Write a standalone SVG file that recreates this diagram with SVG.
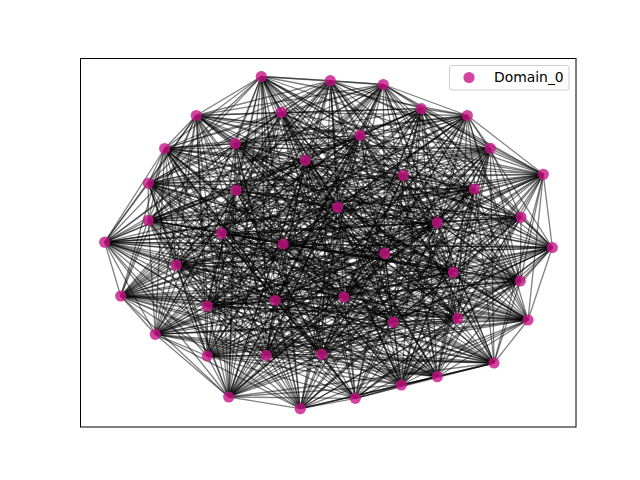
<svg xmlns="http://www.w3.org/2000/svg" width="640" height="480" viewBox="0 0 640 480">
<style>
#edges path{stroke:#000;stroke-opacity:.5;stroke-width:1.3;fill:none}
.n{fill:#c71585;fill-opacity:.8}
.t{font-family:"DejaVu Sans",sans-serif;font-size:13.9px;fill:#000}
</style>
<rect width="640" height="480" fill="#fff"/>
<g id="edges">
<path d="M261.3 76.5L330.3 80.7"/><path d="M261.3 76.5L383.3 84.5"/><path d="M261.3 76.5L281.3 112.3"/><path d="M261.3 76.5L196.3 115.5"/><path d="M261.3 76.5L467.3 115.5"/><path d="M261.3 76.5L235.3 143.5"/><path d="M261.3 76.5L164.7 148.5"/><path d="M261.3 76.5L305.3 160.3"/><path d="M261.3 76.5L148.3 183.3"/><path d="M261.3 76.5L236.3 190.3"/><path d="M261.3 76.5L337.7 207.3"/><path d="M261.3 76.5L521 217.3"/><path d="M261.3 76.5L104.7 242.2"/><path d="M261.3 76.5L283.3 244"/><path d="M261.3 76.5L384.7 253.3"/><path d="M261.3 76.5L453.3 272.3"/><path d="M261.3 76.5L275.3 300.3"/><path d="M261.3 76.5L207.3 306"/><path d="M261.3 76.5L457.7 318.3"/><path d="M261.3 76.5L155.3 334.3"/><path d="M261.3 76.5L266.3 355.3"/><path d="M261.3 76.5L437.3 376.7"/><path d="M261.3 76.5L228.7 397"/><path d="M261.3 76.5L300.3 408.7"/>
<path d="M330.3 80.7L383.3 84.5"/><path d="M330.3 80.7L281.3 112.3"/><path d="M330.3 80.7L421.3 108.7"/><path d="M330.3 80.7L360 135.3"/><path d="M330.3 80.7L235.3 143.5"/><path d="M330.3 80.7L490.3 148.3"/><path d="M330.3 80.7L403.3 175.3"/><path d="M330.3 80.7L148.3 183.3"/><path d="M330.3 80.7L236.3 190.3"/><path d="M330.3 80.7L148.3 220.3"/><path d="M330.3 80.7L221.3 233.2"/><path d="M330.3 80.7L283.3 244"/><path d="M330.3 80.7L552.3 247.5"/><path d="M330.3 80.7L176.3 265"/><path d="M330.3 80.7L120.7 296"/><path d="M330.3 80.7L344 297"/><path d="M330.3 80.7L393.3 322.3"/><path d="M330.3 80.7L207.3 356"/><path d="M330.3 80.7L321.7 354.3"/><path d="M330.3 80.7L494 363"/><path d="M330.3 80.7L401.3 385"/><path d="M330.3 80.7L355.3 398.3"/>
<path d="M383.3 84.5L281.3 112.3"/><path d="M383.3 84.5L421.3 108.7"/><path d="M383.3 84.5L467.3 115.5"/><path d="M383.3 84.5L360 135.3"/><path d="M383.3 84.5L164.7 148.5"/><path d="M383.3 84.5L305.3 160.3"/><path d="M383.3 84.5L543.3 174.3"/><path d="M383.3 84.5L474.3 189"/><path d="M383.3 84.5L337.7 207.3"/><path d="M383.3 84.5L437.3 222.7"/><path d="M383.3 84.5L104.7 242.2"/><path d="M383.3 84.5L384.7 253.3"/><path d="M383.3 84.5L176.3 265"/><path d="M383.3 84.5L520.3 281"/><path d="M383.3 84.5L275.3 300.3"/><path d="M383.3 84.5L457.7 318.3"/><path d="M383.3 84.5L528 320"/><path d="M383.3 84.5L155.3 334.3"/><path d="M383.3 84.5L266.3 355.3"/><path d="M383.3 84.5L437.3 376.7"/><path d="M383.3 84.5L300.3 408.7"/>
<path d="M281.3 112.3L196.3 115.5"/><path d="M281.3 112.3L421.3 108.7"/><path d="M281.3 112.3L235.3 143.5"/><path d="M281.3 112.3L490.3 148.3"/><path d="M281.3 112.3L305.3 160.3"/><path d="M281.3 112.3L403.3 175.3"/><path d="M281.3 112.3L236.3 190.3"/><path d="M281.3 112.3L148.3 220.3"/><path d="M281.3 112.3L521 217.3"/><path d="M281.3 112.3L221.3 233.2"/><path d="M281.3 112.3L552.3 247.5"/><path d="M281.3 112.3L453.3 272.3"/><path d="M281.3 112.3L120.7 296"/><path d="M281.3 112.3L344 297"/><path d="M281.3 112.3L207.3 306"/><path d="M281.3 112.3L393.3 322.3"/><path d="M281.3 112.3L207.3 356"/><path d="M281.3 112.3L494 363"/><path d="M281.3 112.3L228.7 397"/><path d="M281.3 112.3L355.3 398.3"/>
<path d="M196.3 115.5L360 135.3"/><path d="M196.3 115.5L235.3 143.5"/><path d="M196.3 115.5L164.7 148.5"/><path d="M196.3 115.5L543.3 174.3"/><path d="M196.3 115.5L148.3 183.3"/><path d="M196.3 115.5L474.3 189"/><path d="M196.3 115.5L337.7 207.3"/><path d="M196.3 115.5L437.3 222.7"/><path d="M196.3 115.5L104.7 242.2"/><path d="M196.3 115.5L283.3 244"/><path d="M196.3 115.5L176.3 265"/><path d="M196.3 115.5L520.3 281"/><path d="M196.3 115.5L275.3 300.3"/><path d="M196.3 115.5L457.7 318.3"/><path d="M196.3 115.5L528 320"/><path d="M196.3 115.5L207.3 356"/><path d="M196.3 115.5L321.7 354.3"/><path d="M196.3 115.5L401.3 385"/><path d="M196.3 115.5L300.3 408.7"/>
<path d="M421.3 108.7L467.3 115.5"/><path d="M421.3 108.7L360 135.3"/><path d="M421.3 108.7L490.3 148.3"/><path d="M421.3 108.7L305.3 160.3"/><path d="M421.3 108.7L403.3 175.3"/><path d="M421.3 108.7L474.3 189"/><path d="M421.3 108.7L148.3 220.3"/><path d="M421.3 108.7L521 217.3"/><path d="M421.3 108.7L221.3 233.2"/><path d="M421.3 108.7L552.3 247.5"/><path d="M421.3 108.7L384.7 253.3"/><path d="M421.3 108.7L453.3 272.3"/><path d="M421.3 108.7L275.3 300.3"/><path d="M421.3 108.7L207.3 306"/><path d="M421.3 108.7L393.3 322.3"/><path d="M421.3 108.7L155.3 334.3"/><path d="M421.3 108.7L321.7 354.3"/><path d="M421.3 108.7L437.3 376.7"/><path d="M421.3 108.7L228.7 397"/><path d="M421.3 108.7L355.3 398.3"/>
<path d="M467.3 115.5L360 135.3"/><path d="M467.3 115.5L164.7 148.5"/><path d="M467.3 115.5L490.3 148.3"/><path d="M467.3 115.5L543.3 174.3"/><path d="M467.3 115.5L148.3 183.3"/><path d="M467.3 115.5L236.3 190.3"/><path d="M467.3 115.5L337.7 207.3"/><path d="M467.3 115.5L437.3 222.7"/><path d="M467.3 115.5L283.3 244"/><path d="M467.3 115.5L552.3 247.5"/><path d="M467.3 115.5L176.3 265"/><path d="M467.3 115.5L520.3 281"/><path d="M467.3 115.5L344 297"/><path d="M467.3 115.5L457.7 318.3"/><path d="M467.3 115.5L528 320"/><path d="M467.3 115.5L266.3 355.3"/><path d="M467.3 115.5L494 363"/><path d="M467.3 115.5L401.3 385"/>
<path d="M360 135.3L235.3 143.5"/><path d="M360 135.3L305.3 160.3"/><path d="M360 135.3L543.3 174.3"/><path d="M360 135.3L403.3 175.3"/><path d="M360 135.3L474.3 189"/><path d="M360 135.3L148.3 220.3"/><path d="M360 135.3L437.3 222.7"/><path d="M360 135.3L221.3 233.2"/><path d="M360 135.3L283.3 244"/><path d="M360 135.3L384.7 253.3"/><path d="M360 135.3L453.3 272.3"/><path d="M360 135.3L120.7 296"/><path d="M360 135.3L207.3 306"/><path d="M360 135.3L393.3 322.3"/><path d="M360 135.3L155.3 334.3"/><path d="M360 135.3L266.3 355.3"/><path d="M360 135.3L437.3 376.7"/><path d="M360 135.3L300.3 408.7"/>
<path d="M235.3 143.5L164.7 148.5"/><path d="M235.3 143.5L490.3 148.3"/><path d="M235.3 143.5L543.3 174.3"/><path d="M235.3 143.5L148.3 183.3"/><path d="M235.3 143.5L236.3 190.3"/><path d="M235.3 143.5L521 217.3"/><path d="M235.3 143.5L437.3 222.7"/><path d="M235.3 143.5L104.7 242.2"/><path d="M235.3 143.5L384.7 253.3"/><path d="M235.3 143.5L176.3 265"/><path d="M235.3 143.5L520.3 281"/><path d="M235.3 143.5L344 297"/><path d="M235.3 143.5L457.7 318.3"/><path d="M235.3 143.5L528 320"/><path d="M235.3 143.5L207.3 356"/><path d="M235.3 143.5L494 363"/><path d="M235.3 143.5L228.7 397"/>
<path d="M164.7 148.5L305.3 160.3"/><path d="M164.7 148.5L403.3 175.3"/><path d="M164.7 148.5L148.3 183.3"/><path d="M164.7 148.5L474.3 189"/><path d="M164.7 148.5L337.7 207.3"/><path d="M164.7 148.5L148.3 220.3"/><path d="M164.7 148.5L221.3 233.2"/><path d="M164.7 148.5L104.7 242.2"/><path d="M164.7 148.5L283.3 244"/><path d="M164.7 148.5L552.3 247.5"/><path d="M164.7 148.5L453.3 272.3"/><path d="M164.7 148.5L120.7 296"/><path d="M164.7 148.5L275.3 300.3"/><path d="M164.7 148.5L207.3 306"/><path d="M164.7 148.5L528 320"/><path d="M164.7 148.5L155.3 334.3"/><path d="M164.7 148.5L321.7 354.3"/><path d="M164.7 148.5L401.3 385"/><path d="M164.7 148.5L355.3 398.3"/>
<path d="M490.3 148.3L305.3 160.3"/><path d="M490.3 148.3L543.3 174.3"/><path d="M490.3 148.3L403.3 175.3"/><path d="M490.3 148.3L474.3 189"/><path d="M490.3 148.3L236.3 190.3"/><path d="M490.3 148.3L521 217.3"/><path d="M490.3 148.3L437.3 222.7"/><path d="M490.3 148.3L104.7 242.2"/><path d="M490.3 148.3L384.7 253.3"/><path d="M490.3 148.3L453.3 272.3"/><path d="M490.3 148.3L520.3 281"/><path d="M490.3 148.3L344 297"/><path d="M490.3 148.3L393.3 322.3"/><path d="M490.3 148.3L155.3 334.3"/><path d="M490.3 148.3L266.3 355.3"/><path d="M490.3 148.3L494 363"/><path d="M490.3 148.3L437.3 376.7"/><path d="M490.3 148.3L300.3 408.7"/>
<path d="M305.3 160.3L403.3 175.3"/><path d="M305.3 160.3L148.3 183.3"/><path d="M305.3 160.3L236.3 190.3"/><path d="M305.3 160.3L337.7 207.3"/><path d="M305.3 160.3L521 217.3"/><path d="M305.3 160.3L104.7 242.2"/><path d="M305.3 160.3L552.3 247.5"/><path d="M305.3 160.3L176.3 265"/><path d="M305.3 160.3L520.3 281"/><path d="M305.3 160.3L120.7 296"/><path d="M305.3 160.3L344 297"/><path d="M305.3 160.3L457.7 318.3"/><path d="M305.3 160.3L528 320"/><path d="M305.3 160.3L207.3 356"/><path d="M305.3 160.3L321.7 354.3"/><path d="M305.3 160.3L401.3 385"/><path d="M305.3 160.3L228.7 397"/>
<path d="M543.3 174.3L403.3 175.3"/><path d="M543.3 174.3L474.3 189"/><path d="M543.3 174.3L337.7 207.3"/><path d="M543.3 174.3L521 217.3"/><path d="M543.3 174.3L437.3 222.7"/><path d="M543.3 174.3L283.3 244"/><path d="M543.3 174.3L552.3 247.5"/><path d="M543.3 174.3L384.7 253.3"/><path d="M543.3 174.3L453.3 272.3"/><path d="M543.3 174.3L520.3 281"/><path d="M543.3 174.3L275.3 300.3"/><path d="M543.3 174.3L457.7 318.3"/><path d="M543.3 174.3L528 320"/><path d="M543.3 174.3L266.3 355.3"/><path d="M543.3 174.3L494 363"/><path d="M543.3 174.3L228.7 397"/><path d="M543.3 174.3L355.3 398.3"/>
<path d="M403.3 175.3L148.3 183.3"/><path d="M403.3 175.3L236.3 190.3"/><path d="M403.3 175.3L148.3 220.3"/><path d="M403.3 175.3L437.3 222.7"/><path d="M403.3 175.3L221.3 233.2"/><path d="M403.3 175.3L283.3 244"/><path d="M403.3 175.3L176.3 265"/><path d="M403.3 175.3L453.3 272.3"/><path d="M403.3 175.3L120.7 296"/><path d="M403.3 175.3L344 297"/><path d="M403.3 175.3L207.3 306"/><path d="M403.3 175.3L393.3 322.3"/><path d="M403.3 175.3L155.3 334.3"/><path d="M403.3 175.3L321.7 354.3"/><path d="M403.3 175.3L437.3 376.7"/><path d="M403.3 175.3L300.3 408.7"/>
<path d="M148.3 183.3L474.3 189"/><path d="M148.3 183.3L236.3 190.3"/><path d="M148.3 183.3L148.3 220.3"/><path d="M148.3 183.3L521 217.3"/><path d="M148.3 183.3L221.3 233.2"/><path d="M148.3 183.3L104.7 242.2"/><path d="M148.3 183.3L384.7 253.3"/><path d="M148.3 183.3L176.3 265"/><path d="M148.3 183.3L520.3 281"/><path d="M148.3 183.3L275.3 300.3"/><path d="M148.3 183.3L207.3 306"/><path d="M148.3 183.3L393.3 322.3"/><path d="M148.3 183.3L207.3 356"/><path d="M148.3 183.3L266.3 355.3"/><path d="M148.3 183.3L494 363"/><path d="M148.3 183.3L228.7 397"/><path d="M148.3 183.3L355.3 398.3"/>
<path d="M474.3 189L337.7 207.3"/><path d="M474.3 189L148.3 220.3"/><path d="M474.3 189L437.3 222.7"/><path d="M474.3 189L104.7 242.2"/><path d="M474.3 189L283.3 244"/><path d="M474.3 189L384.7 253.3"/><path d="M474.3 189L453.3 272.3"/><path d="M474.3 189L120.7 296"/><path d="M474.3 189L275.3 300.3"/><path d="M474.3 189L457.7 318.3"/><path d="M474.3 189L528 320"/><path d="M474.3 189L155.3 334.3"/><path d="M474.3 189L321.7 354.3"/><path d="M474.3 189L437.3 376.7"/><path d="M474.3 189L401.3 385"/><path d="M474.3 189L300.3 408.7"/>
<path d="M236.3 190.3L337.7 207.3"/><path d="M236.3 190.3L148.3 220.3"/><path d="M236.3 190.3L437.3 222.7"/><path d="M236.3 190.3L221.3 233.2"/><path d="M236.3 190.3L552.3 247.5"/><path d="M236.3 190.3L176.3 265"/><path d="M236.3 190.3L453.3 272.3"/><path d="M236.3 190.3L120.7 296"/><path d="M236.3 190.3L344 297"/><path d="M236.3 190.3L393.3 322.3"/><path d="M236.3 190.3L155.3 334.3"/><path d="M236.3 190.3L207.3 356"/><path d="M236.3 190.3L494 363"/><path d="M236.3 190.3L401.3 385"/><path d="M236.3 190.3L355.3 398.3"/>
<path d="M337.7 207.3L521 217.3"/><path d="M337.7 207.3L437.3 222.7"/><path d="M337.7 207.3L104.7 242.2"/><path d="M337.7 207.3L552.3 247.5"/><path d="M337.7 207.3L384.7 253.3"/><path d="M337.7 207.3L453.3 272.3"/><path d="M337.7 207.3L520.3 281"/><path d="M337.7 207.3L275.3 300.3"/><path d="M337.7 207.3L207.3 306"/><path d="M337.7 207.3L457.7 318.3"/><path d="M337.7 207.3L528 320"/><path d="M337.7 207.3L266.3 355.3"/><path d="M337.7 207.3L321.7 354.3"/><path d="M337.7 207.3L437.3 376.7"/><path d="M337.7 207.3L228.7 397"/><path d="M337.7 207.3L300.3 408.7"/>
<path d="M148.3 220.3L521 217.3"/><path d="M148.3 220.3L221.3 233.2"/><path d="M148.3 220.3L104.7 242.2"/><path d="M148.3 220.3L283.3 244"/><path d="M148.3 220.3L384.7 253.3"/><path d="M148.3 220.3L176.3 265"/><path d="M148.3 220.3L520.3 281"/><path d="M148.3 220.3L120.7 296"/><path d="M148.3 220.3L344 297"/><path d="M148.3 220.3L457.7 318.3"/><path d="M148.3 220.3L528 320"/><path d="M148.3 220.3L155.3 334.3"/><path d="M148.3 220.3L266.3 355.3"/><path d="M148.3 220.3L494 363"/><path d="M148.3 220.3L401.3 385"/><path d="M148.3 220.3L355.3 398.3"/>
<path d="M521 217.3L437.3 222.7"/><path d="M521 217.3L221.3 233.2"/><path d="M521 217.3L283.3 244"/><path d="M521 217.3L552.3 247.5"/><path d="M521 217.3L176.3 265"/><path d="M521 217.3L453.3 272.3"/><path d="M521 217.3L120.7 296"/><path d="M521 217.3L275.3 300.3"/><path d="M521 217.3L207.3 306"/><path d="M521 217.3L393.3 322.3"/><path d="M521 217.3L155.3 334.3"/><path d="M521 217.3L207.3 356"/><path d="M521 217.3L321.7 354.3"/><path d="M521 217.3L437.3 376.7"/><path d="M521 217.3L228.7 397"/><path d="M521 217.3L300.3 408.7"/>
<path d="M437.3 222.7L104.7 242.2"/><path d="M437.3 222.7L283.3 244"/><path d="M437.3 222.7L384.7 253.3"/><path d="M437.3 222.7L176.3 265"/><path d="M437.3 222.7L520.3 281"/><path d="M437.3 222.7L275.3 300.3"/><path d="M437.3 222.7L344 297"/><path d="M437.3 222.7L457.7 318.3"/><path d="M437.3 222.7L393.3 322.3"/><path d="M437.3 222.7L155.3 334.3"/><path d="M437.3 222.7L207.3 356"/><path d="M437.3 222.7L321.7 354.3"/><path d="M437.3 222.7L494 363"/><path d="M437.3 222.7L401.3 385"/><path d="M437.3 222.7L355.3 398.3"/>
<path d="M221.3 233.2L104.7 242.2"/><path d="M221.3 233.2L552.3 247.5"/><path d="M221.3 233.2L384.7 253.3"/><path d="M221.3 233.2L453.3 272.3"/><path d="M221.3 233.2L520.3 281"/><path d="M221.3 233.2L275.3 300.3"/><path d="M221.3 233.2L207.3 306"/><path d="M221.3 233.2L457.7 318.3"/><path d="M221.3 233.2L528 320"/><path d="M221.3 233.2L155.3 334.3"/><path d="M221.3 233.2L266.3 355.3"/><path d="M221.3 233.2L494 363"/><path d="M221.3 233.2L437.3 376.7"/><path d="M221.3 233.2L228.7 397"/><path d="M221.3 233.2L300.3 408.7"/>
<path d="M104.7 242.2L283.3 244"/><path d="M104.7 242.2L552.3 247.5"/><path d="M104.7 242.2L176.3 265"/><path d="M104.7 242.2L453.3 272.3"/><path d="M104.7 242.2L120.7 296"/><path d="M104.7 242.2L275.3 300.3"/><path d="M104.7 242.2L344 297"/><path d="M104.7 242.2L207.3 306"/><path d="M104.7 242.2L393.3 322.3"/><path d="M104.7 242.2L155.3 334.3"/><path d="M104.7 242.2L207.3 356"/><path d="M104.7 242.2L321.7 354.3"/><path d="M104.7 242.2L437.3 376.7"/><path d="M104.7 242.2L228.7 397"/><path d="M104.7 242.2L355.3 398.3"/>
<path d="M283.3 244L552.3 247.5"/><path d="M283.3 244L384.7 253.3"/><path d="M283.3 244L176.3 265"/><path d="M283.3 244L520.3 281"/><path d="M283.3 244L120.7 296"/><path d="M283.3 244L344 297"/><path d="M283.3 244L457.7 318.3"/><path d="M283.3 244L393.3 322.3"/><path d="M283.3 244L528 320"/><path d="M283.3 244L207.3 356"/><path d="M283.3 244L266.3 355.3"/><path d="M283.3 244L494 363"/><path d="M283.3 244L401.3 385"/><path d="M283.3 244L300.3 408.7"/>
<path d="M552.3 247.5L384.7 253.3"/><path d="M552.3 247.5L453.3 272.3"/><path d="M552.3 247.5L520.3 281"/><path d="M552.3 247.5L275.3 300.3"/><path d="M552.3 247.5L344 297"/><path d="M552.3 247.5L457.7 318.3"/><path d="M552.3 247.5L393.3 322.3"/><path d="M552.3 247.5L528 320"/><path d="M552.3 247.5L266.3 355.3"/><path d="M552.3 247.5L321.7 354.3"/><path d="M552.3 247.5L437.3 376.7"/><path d="M552.3 247.5L401.3 385"/><path d="M552.3 247.5L355.3 398.3"/>
<path d="M384.7 253.3L176.3 265"/><path d="M384.7 253.3L453.3 272.3"/><path d="M384.7 253.3L120.7 296"/><path d="M384.7 253.3L344 297"/><path d="M384.7 253.3L207.3 306"/><path d="M384.7 253.3L393.3 322.3"/><path d="M384.7 253.3L155.3 334.3"/><path d="M384.7 253.3L207.3 356"/><path d="M384.7 253.3L321.7 354.3"/><path d="M384.7 253.3L494 363"/><path d="M384.7 253.3L401.3 385"/><path d="M384.7 253.3L228.7 397"/><path d="M384.7 253.3L300.3 408.7"/>
<path d="M176.3 265L453.3 272.3"/><path d="M176.3 265L520.3 281"/><path d="M176.3 265L120.7 296"/><path d="M176.3 265L275.3 300.3"/><path d="M176.3 265L207.3 306"/><path d="M176.3 265L457.7 318.3"/><path d="M176.3 265L528 320"/><path d="M176.3 265L155.3 334.3"/><path d="M176.3 265L266.3 355.3"/><path d="M176.3 265L494 363"/><path d="M176.3 265L437.3 376.7"/><path d="M176.3 265L228.7 397"/><path d="M176.3 265L355.3 398.3"/>
<path d="M453.3 272.3L520.3 281"/><path d="M453.3 272.3L275.3 300.3"/><path d="M453.3 272.3L344 297"/><path d="M453.3 272.3L207.3 306"/><path d="M453.3 272.3L393.3 322.3"/><path d="M453.3 272.3L528 320"/><path d="M453.3 272.3L207.3 356"/><path d="M453.3 272.3L266.3 355.3"/><path d="M453.3 272.3L321.7 354.3"/><path d="M453.3 272.3L437.3 376.7"/><path d="M453.3 272.3L401.3 385"/><path d="M453.3 272.3L300.3 408.7"/>
<path d="M520.3 281L120.7 296"/><path d="M520.3 281L344 297"/><path d="M520.3 281L207.3 306"/><path d="M520.3 281L457.7 318.3"/><path d="M520.3 281L393.3 322.3"/><path d="M520.3 281L155.3 334.3"/><path d="M520.3 281L207.3 356"/><path d="M520.3 281L321.7 354.3"/><path d="M520.3 281L494 363"/><path d="M520.3 281L401.3 385"/><path d="M520.3 281L228.7 397"/><path d="M520.3 281L355.3 398.3"/>
<path d="M120.7 296L275.3 300.3"/><path d="M120.7 296L344 297"/><path d="M120.7 296L457.7 318.3"/><path d="M120.7 296L393.3 322.3"/><path d="M120.7 296L528 320"/><path d="M120.7 296L155.3 334.3"/><path d="M120.7 296L266.3 355.3"/><path d="M120.7 296L494 363"/><path d="M120.7 296L437.3 376.7"/><path d="M120.7 296L228.7 397"/><path d="M120.7 296L300.3 408.7"/>
<path d="M275.3 300.3L344 297"/><path d="M275.3 300.3L207.3 306"/><path d="M275.3 300.3L393.3 322.3"/><path d="M275.3 300.3L528 320"/><path d="M275.3 300.3L207.3 356"/><path d="M275.3 300.3L266.3 355.3"/><path d="M275.3 300.3L321.7 354.3"/><path d="M275.3 300.3L437.3 376.7"/><path d="M275.3 300.3L401.3 385"/><path d="M275.3 300.3L300.3 408.7"/><path d="M275.3 300.3L355.3 398.3"/>
<path d="M344 297L207.3 306"/><path d="M344 297L457.7 318.3"/><path d="M344 297L528 320"/><path d="M344 297L155.3 334.3"/><path d="M344 297L207.3 356"/><path d="M344 297L321.7 354.3"/><path d="M344 297L494 363"/><path d="M344 297L401.3 385"/><path d="M344 297L228.7 397"/><path d="M344 297L355.3 398.3"/>
<path d="M207.3 306L457.7 318.3"/><path d="M207.3 306L393.3 322.3"/><path d="M207.3 306L155.3 334.3"/><path d="M207.3 306L207.3 356"/><path d="M207.3 306L266.3 355.3"/><path d="M207.3 306L494 363"/><path d="M207.3 306L437.3 376.7"/><path d="M207.3 306L228.7 397"/><path d="M207.3 306L300.3 408.7"/>
<path d="M457.7 318.3L393.3 322.3"/><path d="M457.7 318.3L528 320"/><path d="M457.7 318.3L155.3 334.3"/><path d="M457.7 318.3L266.3 355.3"/><path d="M457.7 318.3L321.7 354.3"/><path d="M457.7 318.3L437.3 376.7"/><path d="M457.7 318.3L401.3 385"/><path d="M457.7 318.3L300.3 408.7"/><path d="M457.7 318.3L355.3 398.3"/>
<path d="M393.3 322.3L528 320"/><path d="M393.3 322.3L207.3 356"/><path d="M393.3 322.3L266.3 355.3"/><path d="M393.3 322.3L494 363"/><path d="M393.3 322.3L437.3 376.7"/><path d="M393.3 322.3L228.7 397"/><path d="M393.3 322.3L300.3 408.7"/>
<path d="M528 320L155.3 334.3"/><path d="M528 320L207.3 356"/><path d="M528 320L321.7 354.3"/><path d="M528 320L494 363"/><path d="M528 320L437.3 376.7"/><path d="M528 320L401.3 385"/><path d="M528 320L300.3 408.7"/><path d="M528 320L355.3 398.3"/>
<path d="M155.3 334.3L207.3 356"/><path d="M155.3 334.3L266.3 355.3"/><path d="M155.3 334.3L321.7 354.3"/><path d="M155.3 334.3L437.3 376.7"/><path d="M155.3 334.3L228.7 397"/><path d="M155.3 334.3L300.3 408.7"/>
<path d="M207.3 356L266.3 355.3"/><path d="M207.3 356L321.7 354.3"/><path d="M207.3 356L494 363"/><path d="M207.3 356L401.3 385"/><path d="M207.3 356L228.7 397"/><path d="M207.3 356L355.3 398.3"/>
<path d="M266.3 355.3L321.7 354.3"/><path d="M266.3 355.3L494 363"/><path d="M266.3 355.3L437.3 376.7"/><path d="M266.3 355.3L228.7 397"/><path d="M266.3 355.3L300.3 408.7"/>
<path d="M321.7 354.3L494 363"/><path d="M321.7 354.3L401.3 385"/><path d="M321.7 354.3L300.3 408.7"/><path d="M321.7 354.3L355.3 398.3"/>
<path d="M494 363L437.3 376.7"/><path d="M494 363L401.3 385"/><path d="M494 363L228.7 397"/><path d="M494 363L355.3 398.3"/>
<path d="M437.3 376.7L401.3 385"/><path d="M437.3 376.7L300.3 408.7"/><path d="M437.3 376.7L355.3 398.3"/>
<path d="M401.3 385L228.7 397"/><path d="M401.3 385L300.3 408.7"/><path d="M401.3 385L355.3 398.3"/>
<path d="M228.7 397L300.3 408.7"/>
<path d="M300.3 408.7L355.3 398.3"/>
<path d="M261.3 76.5L360 135.3"/><path d="M261.3 76.5L543.3 174.3"/><path d="M261.3 76.5L474.3 189"/><path d="M261.3 76.5L437.3 222.7"/><path d="M261.3 76.5L552.3 247.5"/><path d="M261.3 76.5L520.3 281"/><path d="M261.3 76.5L344 297"/><path d="M261.3 76.5L528 320"/><path d="M261.3 76.5L321.7 354.3"/><path d="M261.3 76.5L401.3 385"/>
<path d="M330.3 80.7L196.3 115.5"/><path d="M330.3 80.7L164.7 148.5"/><path d="M330.3 80.7L543.3 174.3"/><path d="M330.3 80.7L337.7 207.3"/><path d="M330.3 80.7L437.3 222.7"/><path d="M330.3 80.7L384.7 253.3"/><path d="M330.3 80.7L520.3 281"/><path d="M330.3 80.7L207.3 306"/><path d="M330.3 80.7L528 320"/><path d="M330.3 80.7L266.3 355.3"/><path d="M330.3 80.7L228.7 397"/>
<path d="M383.3 84.5L196.3 115.5"/><path d="M383.3 84.5L490.3 148.3"/><path d="M383.3 84.5L148.3 183.3"/><path d="M383.3 84.5L148.3 220.3"/><path d="M383.3 84.5L221.3 233.2"/><path d="M383.3 84.5L552.3 247.5"/><path d="M383.3 84.5L120.7 296"/><path d="M383.3 84.5L207.3 306"/><path d="M383.3 84.5L207.3 356"/><path d="M383.3 84.5L494 363"/><path d="M383.3 84.5L228.7 397"/>
<path d="M281.3 112.3L467.3 115.5"/><path d="M281.3 112.3L164.7 148.5"/><path d="M281.3 112.3L148.3 183.3"/><path d="M281.3 112.3L337.7 207.3"/><path d="M281.3 112.3L104.7 242.2"/><path d="M281.3 112.3L384.7 253.3"/><path d="M281.3 112.3L520.3 281"/><path d="M281.3 112.3L457.7 318.3"/><path d="M281.3 112.3L155.3 334.3"/><path d="M281.3 112.3L321.7 354.3"/><path d="M281.3 112.3L401.3 385"/>
<path d="M196.3 115.5L421.3 108.7"/><path d="M196.3 115.5L490.3 148.3"/><path d="M196.3 115.5L403.3 175.3"/><path d="M196.3 115.5L148.3 220.3"/><path d="M196.3 115.5L221.3 233.2"/><path d="M196.3 115.5L384.7 253.3"/><path d="M196.3 115.5L120.7 296"/><path d="M196.3 115.5L207.3 306"/><path d="M196.3 115.5L155.3 334.3"/><path d="M196.3 115.5L494 363"/><path d="M196.3 115.5L228.7 397"/>
<path d="M421.3 108.7L235.3 143.5"/><path d="M421.3 108.7L543.3 174.3"/><path d="M421.3 108.7L236.3 190.3"/><path d="M421.3 108.7L437.3 222.7"/><path d="M421.3 108.7L283.3 244"/><path d="M421.3 108.7L520.3 281"/><path d="M421.3 108.7L344 297"/><path d="M421.3 108.7L528 320"/><path d="M421.3 108.7L266.3 355.3"/><path d="M421.3 108.7L401.3 385"/>
<path d="M467.3 115.5L235.3 143.5"/><path d="M467.3 115.5L403.3 175.3"/><path d="M467.3 115.5L148.3 220.3"/><path d="M467.3 115.5L221.3 233.2"/><path d="M467.3 115.5L384.7 253.3"/><path d="M467.3 115.5L120.7 296"/><path d="M467.3 115.5L207.3 306"/><path d="M467.3 115.5L155.3 334.3"/><path d="M467.3 115.5L321.7 354.3"/><path d="M467.3 115.5L228.7 397"/><path d="M467.3 115.5L355.3 398.3"/>
<path d="M360 135.3L164.7 148.5"/><path d="M360 135.3L148.3 183.3"/><path d="M360 135.3L337.7 207.3"/><path d="M360 135.3L104.7 242.2"/><path d="M360 135.3L176.3 265"/><path d="M360 135.3L275.3 300.3"/><path d="M360 135.3L457.7 318.3"/><path d="M360 135.3L207.3 356"/><path d="M360 135.3L494 363"/><path d="M360 135.3L228.7 397"/>
<path d="M235.3 143.5L305.3 160.3"/><path d="M235.3 143.5L474.3 189"/><path d="M235.3 143.5L148.3 220.3"/><path d="M235.3 143.5L283.3 244"/><path d="M235.3 143.5L453.3 272.3"/><path d="M235.3 143.5L275.3 300.3"/><path d="M235.3 143.5L393.3 322.3"/><path d="M235.3 143.5L266.3 355.3"/><path d="M235.3 143.5L437.3 376.7"/><path d="M235.3 143.5L300.3 408.7"/>
<path d="M164.7 148.5L490.3 148.3"/><path d="M164.7 148.5L236.3 190.3"/><path d="M164.7 148.5L437.3 222.7"/><path d="M164.7 148.5L176.3 265"/><path d="M164.7 148.5L344 297"/><path d="M164.7 148.5L393.3 322.3"/><path d="M164.7 148.5L266.3 355.3"/><path d="M164.7 148.5L437.3 376.7"/><path d="M164.7 148.5L300.3 408.7"/>
<path d="M490.3 148.3L148.3 183.3"/><path d="M490.3 148.3L148.3 220.3"/><path d="M490.3 148.3L283.3 244"/><path d="M490.3 148.3L176.3 265"/><path d="M490.3 148.3L275.3 300.3"/><path d="M490.3 148.3L457.7 318.3"/><path d="M490.3 148.3L207.3 356"/><path d="M490.3 148.3L401.3 385"/><path d="M490.3 148.3L355.3 398.3"/>
<path d="M305.3 160.3L543.3 174.3"/><path d="M305.3 160.3L148.3 220.3"/><path d="M305.3 160.3L221.3 233.2"/><path d="M305.3 160.3L384.7 253.3"/><path d="M305.3 160.3L275.3 300.3"/><path d="M305.3 160.3L393.3 322.3"/><path d="M305.3 160.3L266.3 355.3"/><path d="M305.3 160.3L437.3 376.7"/><path d="M305.3 160.3L355.3 398.3"/>
<path d="M543.3 174.3L148.3 183.3"/><path d="M543.3 174.3L148.3 220.3"/><path d="M543.3 174.3L104.7 242.2"/><path d="M543.3 174.3L120.7 296"/><path d="M543.3 174.3L207.3 306"/><path d="M543.3 174.3L155.3 334.3"/><path d="M543.3 174.3L321.7 354.3"/><path d="M543.3 174.3L401.3 385"/>
<path d="M403.3 175.3L474.3 189"/><path d="M403.3 175.3L521 217.3"/><path d="M403.3 175.3L552.3 247.5"/><path d="M403.3 175.3L520.3 281"/><path d="M403.3 175.3L457.7 318.3"/><path d="M403.3 175.3L207.3 356"/><path d="M403.3 175.3L494 363"/><path d="M403.3 175.3L228.7 397"/>
<path d="M148.3 183.3L337.7 207.3"/><path d="M148.3 183.3L283.3 244"/><path d="M148.3 183.3L453.3 272.3"/><path d="M148.3 183.3L344 297"/><path d="M148.3 183.3L528 320"/><path d="M148.3 183.3L321.7 354.3"/><path d="M148.3 183.3L401.3 385"/>
<path d="M474.3 189L236.3 190.3"/><path d="M474.3 189L221.3 233.2"/><path d="M474.3 189L176.3 265"/><path d="M474.3 189L344 297"/><path d="M474.3 189L393.3 322.3"/><path d="M474.3 189L266.3 355.3"/><path d="M474.3 189L228.7 397"/>
<path d="M236.3 190.3L521 217.3"/><path d="M236.3 190.3L283.3 244"/><path d="M236.3 190.3L520.3 281"/><path d="M236.3 190.3L207.3 306"/><path d="M236.3 190.3L528 320"/><path d="M236.3 190.3L321.7 354.3"/><path d="M236.3 190.3L228.7 397"/>
<path d="M337.7 207.3L148.3 220.3"/><path d="M337.7 207.3L283.3 244"/><path d="M337.7 207.3L120.7 296"/><path d="M337.7 207.3L393.3 322.3"/><path d="M337.7 207.3L207.3 356"/><path d="M337.7 207.3L401.3 385"/>
<path d="M148.3 220.3L437.3 222.7"/><path d="M148.3 220.3L453.3 272.3"/><path d="M148.3 220.3L207.3 306"/><path d="M148.3 220.3L207.3 356"/><path d="M148.3 220.3L437.3 376.7"/><path d="M148.3 220.3L300.3 408.7"/>
<path d="M521 217.3L104.7 242.2"/><path d="M521 217.3L520.3 281"/><path d="M521 217.3L457.7 318.3"/><path d="M521 217.3L266.3 355.3"/><path d="M521 217.3L401.3 385"/>
<path d="M437.3 222.7L221.3 233.2"/><path d="M437.3 222.7L453.3 272.3"/><path d="M437.3 222.7L207.3 306"/><path d="M437.3 222.7L266.3 355.3"/><path d="M437.3 222.7L228.7 397"/>
<path d="M221.3 233.2L283.3 244"/><path d="M221.3 233.2L120.7 296"/><path d="M221.3 233.2L393.3 322.3"/><path d="M221.3 233.2L321.7 354.3"/><path d="M221.3 233.2L355.3 398.3"/>
<path d="M104.7 242.2L384.7 253.3"/><path d="M104.7 242.2L520.3 281"/><path d="M104.7 242.2L528 320"/><path d="M104.7 242.2L494 363"/><path d="M104.7 242.2L300.3 408.7"/>
<path d="M283.3 244L453.3 272.3"/><path d="M283.3 244L207.3 306"/><path d="M283.3 244L321.7 354.3"/><path d="M283.3 244L228.7 397"/>
<path d="M552.3 247.5L176.3 265"/><path d="M552.3 247.5L207.3 306"/><path d="M552.3 247.5L207.3 356"/><path d="M552.3 247.5L228.7 397"/>
<path d="M384.7 253.3L520.3 281"/><path d="M384.7 253.3L457.7 318.3"/><path d="M384.7 253.3L266.3 355.3"/><path d="M384.7 253.3L355.3 398.3"/>
<path d="M176.3 265L344 297"/><path d="M176.3 265L207.3 356"/><path d="M176.3 265L401.3 385"/>
<path d="M453.3 272.3L120.7 296"/><path d="M453.3 272.3L155.3 334.3"/><path d="M453.3 272.3L228.7 397"/>
<path d="M520.3 281L275.3 300.3"/><path d="M520.3 281L266.3 355.3"/><path d="M520.3 281L300.3 408.7"/>
<path d="M120.7 296L207.3 306"/><path d="M120.7 296L321.7 354.3"/><path d="M120.7 296L355.3 398.3"/>
<path d="M275.3 300.3L457.7 318.3"/><path d="M275.3 300.3L494 363"/>
<path d="M344 297L393.3 322.3"/><path d="M344 297L437.3 376.7"/>
<path d="M207.3 306L528 320"/><path d="M207.3 306L401.3 385"/>
<path d="M457.7 318.3L207.3 356"/><path d="M457.7 318.3L228.7 397"/>
<path d="M393.3 322.3L155.3 334.3"/><path d="M393.3 322.3L401.3 385"/>
<path d="M528 320L266.3 355.3"/>
<path d="M155.3 334.3L494 363"/>
<path d="M207.3 356L437.3 376.7"/>
<path d="M266.3 355.3L401.3 385"/>
<path d="M321.7 354.3L437.3 376.7"/>
<path d="M494 363L300.3 408.7"/>
<path d="M228.7 397L355.3 398.3"/>
</g>
<g id="n0"><circle class="n" cx="261.3" cy="76.5" r="5.6"/></g>
<g id="n1"><circle class="n" cx="330.3" cy="80.7" r="5.6"/></g>
<g id="n2"><circle class="n" cx="383.3" cy="84.5" r="5.6"/></g>
<g id="n3"><circle class="n" cx="281.3" cy="112.3" r="5.6"/></g>
<g id="n4"><circle class="n" cx="196.3" cy="115.5" r="5.6"/></g>
<g id="n5"><circle class="n" cx="421.3" cy="108.7" r="5.6"/></g>
<g id="n6"><circle class="n" cx="467.3" cy="115.5" r="5.6"/></g>
<g id="n7"><circle class="n" cx="360" cy="135.3" r="5.6"/></g>
<g id="n8"><circle class="n" cx="235.3" cy="143.5" r="5.6"/></g>
<g id="n9"><circle class="n" cx="164.7" cy="148.5" r="5.6"/></g>
<g id="n10"><circle class="n" cx="490.3" cy="148.3" r="5.6"/></g>
<g id="n11"><circle class="n" cx="305.3" cy="160.3" r="5.6"/></g>
<g id="n12"><circle class="n" cx="543.3" cy="174.3" r="5.6"/></g>
<g id="n13"><circle class="n" cx="403.3" cy="175.3" r="5.6"/></g>
<g id="n14"><circle class="n" cx="148.3" cy="183.3" r="5.6"/></g>
<g id="n15"><circle class="n" cx="474.3" cy="189" r="5.6"/></g>
<g id="n16"><circle class="n" cx="236.3" cy="190.3" r="5.6"/></g>
<g id="n17"><circle class="n" cx="337.7" cy="207.3" r="5.6"/></g>
<g id="n18"><circle class="n" cx="148.3" cy="220.3" r="5.6"/></g>
<g id="n19"><circle class="n" cx="521" cy="217.3" r="5.6"/></g>
<g id="n20"><circle class="n" cx="437.3" cy="222.7" r="5.6"/></g>
<g id="n21"><circle class="n" cx="221.3" cy="233.2" r="5.6"/></g>
<g id="n22"><circle class="n" cx="104.7" cy="242.2" r="5.6"/></g>
<g id="n23"><circle class="n" cx="283.3" cy="244" r="5.6"/></g>
<g id="n24"><circle class="n" cx="552.3" cy="247.5" r="5.6"/></g>
<g id="n25"><circle class="n" cx="384.7" cy="253.3" r="5.6"/></g>
<g id="n26"><circle class="n" cx="176.3" cy="265" r="5.6"/></g>
<g id="n27"><circle class="n" cx="453.3" cy="272.3" r="5.6"/></g>
<g id="n28"><circle class="n" cx="520.3" cy="281" r="5.6"/></g>
<g id="n29"><circle class="n" cx="120.7" cy="296" r="5.6"/></g>
<g id="n30"><circle class="n" cx="275.3" cy="300.3" r="5.6"/></g>
<g id="n31"><circle class="n" cx="344" cy="297" r="5.6"/></g>
<g id="n32"><circle class="n" cx="207.3" cy="306" r="5.6"/></g>
<g id="n33"><circle class="n" cx="457.7" cy="318.3" r="5.6"/></g>
<g id="n34"><circle class="n" cx="393.3" cy="322.3" r="5.6"/></g>
<g id="n35"><circle class="n" cx="528" cy="320" r="5.6"/></g>
<g id="n36"><circle class="n" cx="155.3" cy="334.3" r="5.6"/></g>
<g id="n37"><circle class="n" cx="207.3" cy="356" r="5.6"/></g>
<g id="n38"><circle class="n" cx="266.3" cy="355.3" r="5.6"/></g>
<g id="n39"><circle class="n" cx="321.7" cy="354.3" r="5.6"/></g>
<g id="n40"><circle class="n" cx="494" cy="363" r="5.6"/></g>
<g id="n41"><circle class="n" cx="437.3" cy="376.7" r="5.6"/></g>
<g id="n42"><circle class="n" cx="401.3" cy="385" r="5.6"/></g>
<g id="n43"><circle class="n" cx="228.7" cy="397" r="5.6"/></g>
<g id="n44"><circle class="n" cx="300.3" cy="408.7" r="5.6"/></g>
<g id="n45"><circle class="n" cx="355.3" cy="398.3" r="5.6"/></g>
<rect x="80.5" y="58.5" width="495.5" height="368.5" fill="none" stroke="#000" stroke-width="1"/>
<g id="legend">
<rect x="449.5" y="65.5" width="119.5" height="24.5" rx="2.5" fill="#fff" fill-opacity=".8" stroke="#ccc" stroke-width="1"/>
<circle class="n" cx="469" cy="77.5" r="5.6"/>
<text class="t" x="494" y="82">Domain_0</text>
</g>
</svg>
